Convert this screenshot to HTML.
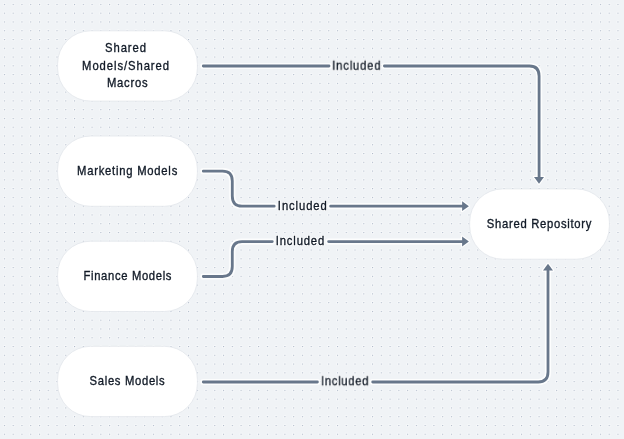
<!DOCTYPE html>
<html>
<head>
<meta charset="utf-8">
<style>
html,body{margin:0;padding:0;}
body{width:624px;height:439px;overflow:hidden;background:#f0f3f6;}
svg{display:block;will-change:transform;}
text{font-family:"Liberation Sans",sans-serif;font-size:12.5px;fill:#111a27;text-anchor:middle;}
</style>
</head>
<body>
<svg width="624" height="439" viewBox="0 0 624 439">
<defs>
<pattern id="dots" x="0" y="0" width="8.765" height="8.772" patternUnits="userSpaceOnUse">
<circle cx="4.5" cy="4.5" r="1.5" fill="#ffffff" opacity="0.6"/><circle cx="4.5" cy="4.5" r="0.62" fill="#a2adc0"/>
</pattern>
</defs>
<rect width="624" height="439" fill="#f0f3f6"/>
<rect width="624" height="439" fill="url(#dots)"/>

<g fill="#ffffff" stroke="#e2e6eb" stroke-width="0.8">
<rect x="57.6" y="30.8" width="139.8" height="70.3" rx="33"/>
<rect x="57.6" y="136" width="139.8" height="70.3" rx="33"/>
<rect x="57.6" y="241.2" width="139.8" height="70.3" rx="33"/>
<rect x="57.6" y="346.3" width="139.8" height="70.3" rx="33"/>
<rect x="469.7" y="188.9" width="139.7" height="70.3" rx="33"/>
</g>

<g fill="none" stroke="#ffffff" stroke-width="6.2" stroke-linecap="round" stroke-linejoin="round" opacity="0.85">
<path d="M203.3 66 H329 M384.4 66 H529.4 Q539.1 66 539.1 76 V177"/>
<path d="M203.3 171.2 H222.5 Q232.3 171.2 232.3 181 V196 Q232.3 206.2 242 206.2 H274.2 M330.6 206.2 H462.5"/>
<path d="M203.3 276.5 H222.5 Q232.3 276.5 232.3 266.6 V251.5 Q232.3 241.6 242 241.6 H272.3 M328.6 241.6 H462.5"/>
<path d="M203.3 382 H317.4 M372.7 382 H538.2 Q548 382 548 372 V270.5"/>
</g>
<g fill="#ffffff" stroke="#ffffff" stroke-width="2.4" stroke-linejoin="round">
<polygon points="539,183.7 534,176.9 544,176.9"/>
<polygon points="468.9,206.2 462.1,201.3 462.1,211.1"/>
<polygon points="468.9,241.5 462.1,236.6 462.1,246.4"/>
<polygon points="548,263.7 543,270.5 553,270.5"/>
</g>
<g fill="none" stroke="#68778b" stroke-width="2.8" stroke-linecap="round" stroke-linejoin="round">
<path d="M203.3 66 H329 M384.4 66 H529.4 Q539.1 66 539.1 76 V177"/>
<path d="M203.3 171.2 H222.5 Q232.3 171.2 232.3 181 V196 Q232.3 206.2 242 206.2 H274.2 M330.6 206.2 H462.5"/>
<path d="M203.3 276.5 H222.5 Q232.3 276.5 232.3 266.6 V251.5 Q232.3 241.6 242 241.6 H272.3 M328.6 241.6 H462.5"/>
<path d="M203.3 382 H317.4 M372.7 382 H538.2 Q548 382 548 372 V270.5"/>
</g>
<g fill="#68778b">
<polygon points="539,183.7 534,176.9 544,176.9"/>
<polygon points="468.9,206.2 462.1,201.3 462.1,211.1"/>
<polygon points="468.9,241.5 462.1,236.6 462.1,246.4"/>
<polygon points="548,263.7 543,270.5 553,270.5"/>
</g>

<g stroke="#111a27" stroke-width="0.35">
<text transform="translate(125.94 52.3) scale(0.9 1)" letter-spacing="1.04">Shared</text>
<text transform="translate(126.01 69.8) scale(0.9 1)" letter-spacing="1.05">Models/Shared</text>
<text transform="translate(127.67 87.2) scale(0.9 1)" letter-spacing="0.867">Macros</text>
<text transform="translate(127.52 175.3) scale(0.9 1)" letter-spacing="0.857">Marketing Models</text>
<text transform="translate(127.8 280.3) scale(0.9 1)" letter-spacing="0.746">Finance Models</text>
<text transform="translate(127.45 385.3) scale(0.9 1)" letter-spacing="0.766">Sales Models</text>
<text transform="translate(539.43 228.2) scale(0.9 1)" letter-spacing="0.789">Shared Repository</text>
</g>
<g stroke="#ffffff" stroke-width="2.2" stroke-linejoin="round" style="fill:#ffffff" opacity="0.9">
<text transform="translate(356.78 69.7) scale(0.9 1)" letter-spacing="0.924">Included</text>
<text transform="translate(302.77 210) scale(0.9 1)" letter-spacing="1.026">Included</text>
<text transform="translate(300.38 245) scale(0.9 1)" letter-spacing="0.959">Included</text>
<text transform="translate(345.07 385.2) scale(0.9 1)" letter-spacing="0.773">Included</text>
</g>
<g stroke="#111a27" stroke-width="0.35">
<text transform="translate(356.78 69.7) scale(0.9 1)" letter-spacing="0.924">Included</text>
<text transform="translate(302.77 210) scale(0.9 1)" letter-spacing="1.026">Included</text>
<text transform="translate(300.38 245) scale(0.9 1)" letter-spacing="0.959">Included</text>
<text transform="translate(345.07 385.2) scale(0.9 1)" letter-spacing="0.773">Included</text>
</g>
</svg>
</body>
</html>
